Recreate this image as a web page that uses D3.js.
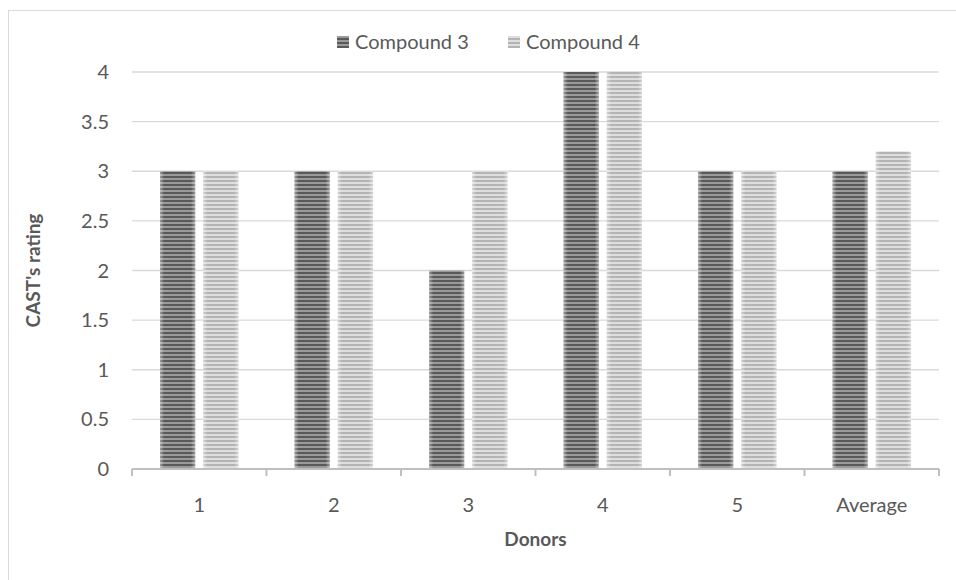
<!DOCTYPE html>
<html>
<head>
<meta charset="utf-8">
<script src="https://cdn.jsdelivr.net/npm/d3@7"></script>
<style>
  body { margin: 0; background: #fff; }
  svg text { font-family: Lato, "Open Sans", sans-serif; fill: #595959; }
</style>
</head>
<body>
<svg width="956" height="580"></svg>
<script>
const categories = ["1", "2", "3", "4", "5", "Average"];
const seriesNames = ["Compound 3", "Compound 4"];
const compound3 = [3, 3, 2, 4, 3, 3];
const compound4 = [3, 3, 3, 4, 3, 3.2];
const yTicks = [0, 0.5, 1, 1.5, 2, 2.5, 3, 3.5, 4];

const svg = d3.select("svg");
const margin = { left: 132, right: 17, top: 72, bottom: 111 };
const width = 956, height = 580;
const fs = 20;

// chart border
svg.append("rect")
    .attr("x", 8.5).attr("y", 10.5)
    .attr("width", 960).attr("height", 600)
    .attr("fill", "none").attr("stroke", "#d9d9d9");

// stripe patterns + cylinder-ish shading
const defs = svg.append("defs");
const stripes = [
    { id: "p0", dark: "#595959", light: "#9a9a9a" },
    { id: "p1", dark: "#b4b4b4", light: "#dedede" }
];
stripes.forEach(s => {
    const p = defs.append("pattern")
        .attr("id", s.id)
        .attr("patternUnits", "userSpaceOnUse")
        .attr("width", 8).attr("height", 4);
    p.append("rect").attr("width", 8).attr("height", 4).attr("fill", s.light);
    p.append("rect").attr("width", 8).attr("height", 2).attr("fill", s.dark);
});
const shade = defs.append("linearGradient").attr("id", "shade");
shade.append("stop").attr("offset", "0%").attr("stop-color", "#fff").attr("stop-opacity", 0.4);
shade.append("stop").attr("offset", "12%").attr("stop-color", "#fff").attr("stop-opacity", 0);
shade.append("stop").attr("offset", "88%").attr("stop-color", "#fff").attr("stop-opacity", 0);
shade.append("stop").attr("offset", "100%").attr("stop-color", "#fff").attr("stop-opacity", 0.4);

const x = d3.scaleBand()
    .domain(categories)
    .range([margin.left, width - margin.right]);

const x1 = d3.scaleBand()
    .domain(seriesNames)
    .range([0, x.bandwidth()])
    .paddingInner(0.186)
    .paddingOuter(0.65);

const y = d3.scaleLinear()
    .domain([0, 4])
    .range([height - margin.bottom, margin.top]);

// gridlines
svg.append("g")
    .selectAll("line")
    .data(yTicks.slice(1))
    .enter().append("line")
    .attr("x1", margin.left).attr("x2", width - margin.right)
    .attr("y1", d => y(d)).attr("y2", d => y(d))
    .attr("stroke", "#d9d9d9").attr("stroke-width", 1.3);

// y tick labels
svg.append("g")
    .selectAll("text")
    .data(yTicks)
    .enter().append("text")
    .attr("x", 109)
    .attr("y", d => y(d))
    .attr("dy", "0.35em")
    .attr("text-anchor", "end")
    .attr("font-size", fs)
    .text(d => d);

// bars
const rows = categories.map((c, i) => ({ cat: c, vals: [compound3[i], compound4[i]] }));
const groups = svg.append("g")
    .selectAll("g")
    .data(rows)
    .enter().append("g")
    .attr("transform", d => `translate(${x(d.cat)},0)`);

groups.selectAll("rect.bar")
    .data(d => d.vals.map((v, j) => ({ name: seriesNames[j], v, j })))
    .enter().append("rect")
    .attr("class", "bar")
    .attr("x", d => x1(d.name))
    .attr("width", x1.bandwidth())
    .attr("y", d => y(d.v))
    .attr("height", d => y(0) - y(d.v))
    .attr("fill", d => `url(#p${d.j})`);

groups.selectAll("rect.shade")
    .data(d => d.vals.map((v, j) => ({ name: seriesNames[j], v, j })))
    .enter().append("rect")
    .attr("class", "shade")
    .attr("x", d => x1(d.name))
    .attr("width", x1.bandwidth())
    .attr("y", d => y(d.v))
    .attr("height", d => y(0) - y(d.v))
    .attr("fill", "url(#shade)");

// x axis
const xAxis = svg.append("g")
    .attr("transform", `translate(0,${y(0)})`);
xAxis.append("line")
    .attr("x1", margin.left).attr("x2", width - margin.right)
    .attr("stroke", "#bfbfbf").attr("stroke-width", 2);
const bounds = categories.map(c => x(c)).concat([x(categories[categories.length - 1]) + x.bandwidth()]);
xAxis.selectAll("line.tick")
    .data(bounds)
    .enter().append("line")
    .attr("class", "tick")
    .attr("x1", d => d).attr("x2", d => d)
    .attr("y1", 0).attr("y2", 7)
    .attr("stroke", "#bfbfbf").attr("stroke-width", 2);
xAxis.selectAll("text")
    .data(categories)
    .enter().append("text")
    .attr("x", d => x(d) + x.bandwidth() / 2)
    .attr("y", 36)
    .attr("dy", "0.35em")
    .attr("text-anchor", "middle")
    .attr("font-size", fs)
    .text(d => d);

// axis titles
svg.append("text")
    .attr("x", (margin.left + width - margin.right) / 2)
    .attr("y", 539)
    .attr("dy", "0.35em")
    .attr("text-anchor", "middle")
    .attr("font-size", fs - 1)
    .attr("font-weight", "bold")
    .text("Donors");

svg.append("text")
    .attr("transform", `translate(33,${y(2)}) rotate(-90)`)
    .attr("dy", "0.35em")
    .attr("text-anchor", "middle")
    .attr("font-size", fs - 1)
    .attr("font-weight", "bold")
    .text("CAST's rating");

// legend
const legendItems = [
    { name: seriesNames[0], x: 337 },
    { name: seriesNames[1], x: 508 }
];
const legend = svg.append("g")
    .selectAll("g")
    .data(legendItems)
    .enter().append("g")
    .attr("transform", d => `translate(${d.x},42)`);
legend.append("rect")
    .attr("x", 0).attr("y", -6)
    .attr("width", 12).attr("height", 12)
    .attr("fill", (d, i) => `url(#p${i})`);
legend.append("text")
    .attr("x", 18)
    .attr("dy", "0.35em")
    .attr("font-size", fs)
    .text(d => d.name);
</script>
</body>
</html>
